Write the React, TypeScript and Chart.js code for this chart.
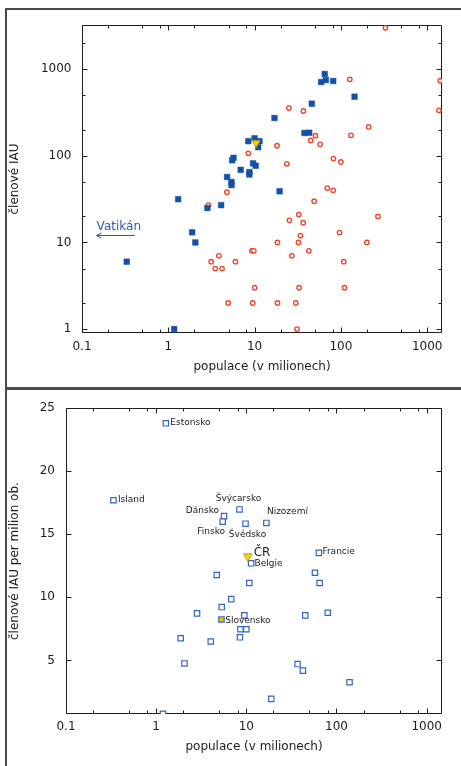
import React, { useEffect, useRef } from 'react';
import { Chart, registerables } from 'chart.js';

Chart.register(...registerables);

const FONT_FAMILY = "'DejaVu Sans', 'Liberation Sans', sans-serif";
const TEXT_COLOR = '#1c1c1c';

// ---------- Top panel: IAU members vs population (millions) ----------
const memberStatePopulation = [65, 59, 67, 81.5, 144, 46, 17, 37.8, 43, 10, 8.45, 11.4, 11, 5.7, 5.5, 9.6, 10.3, 6.9, 8.7, 8.7, 4.8, 5.4, 5.4, 19.5, 1.3, 2.84, 4.1, 1.89, 2.06, 0.33, 1.17];
const memberStateMembers = [883, 713, 752, 733, 483, 401, 274, 184, 185, 160, 148, 148, 126, 95, 89, 82, 77, 69, 65, 61, 57, 50, 46, 39, 31.6, 25, 27, 13.1, 10, 6, 1];

const otherPopulation = [328, 127, 1416, 1368, 25, 36.8, 210, 131, 50.8, 44.8, 57.5, 18.2, 8.45, 23.6, 82, 100, 4.78, 69.5, 81.5, 49, 2.92, 32.5, 25.3, 36.6, 269, 34, 96.6, 18.4, 32.2, 200, 9.3, 9.8, 42.5, 3.85, 27, 3.14, 6.0, 108, 3.5, 4.2, 10, 32.8, 110, 4.94, 9.5, 18.4, 30, 31];
const otherMembers = [3020, 767, 738, 336, 357, 330, 216, 173, 171, 151, 136, 131, 107, 81, 93, 85, 38, 42.5, 40, 30, 27, 21, 18, 16.9, 20, 12, 13, 10, 10, 10, 8, 8, 8, 7, 7, 6, 6, 6, 5, 5, 3, 3, 3, 2, 2, 2, 2, 1];

const czPopulation = [10.4];
const czMembers = [141];

const vaticanText = 'Vatikán';
const vaticanTextAt = [0.267, 15];
const vaticanArrowFrom = [0.408, 12.2];
const vaticanArrowTo = [0.147, 12.2];

// ---------- Bottom panel: IAU members per million inhabitants ----------
const perMillionNames = ['Estonsko', 'Island', 'Švýcarsko', 'Dánsko', 'Finsko', 'Švédsko', 'Nizozemí', 'Belgie', 'Francie', '', '', '', '', '', '', '', '', '', '', '', '', '', '', '', '', '', '', '', '', ''];
const perMillionPopulation = [1.28, 0.336, 8.4, 5.66, 5.47, 9.8, 16.7, 11.3, 63.8, 4.7, 10.8, 57.7, 65, 6.8, 5.33, 2.84, 9.5, 45, 80, 8.6, 10, 8.5, 1.87, 4.03, 2.06, 37, 42.4, 139.6, 18.9, 1.19];
const perMillionMembers = [23.8, 17.7, 16.97, 16.44, 16.0, 15.84, 15.9, 12.7, 13.53, 11.77, 11.14, 11.95, 11.14, 9.86, 9.23, 8.73, 8.57, 8.57, 8.78, 7.47, 7.47, 6.83, 6.76, 6.5, 4.76, 4.71, 4.19, 3.27, 1.95, 0.77];

const slovakiaName = ['Slovensko'];
const slovakiaPopulation = [5.3];
const slovakiaPerMillion = [8.25];

const czName = ['ČR'];
const czPopulation2 = [10.4];
const czPerMillion = [13.25];

// ---------- Tick marks ----------
const logXMajor = [0.1, 1, 10, 100, 1000];
const logXMinor = [0.2, 0.5, 0.8, 2, 5, 8, 20, 50, 80, 200, 500, 800];
const logYMajor = [1, 10, 100, 1000];
const logYMinor = [2, 5, 20, 50, 200, 500, 2000];
const linYMajor = [5, 10, 15, 20, 25];

// label placement (style, not data)
const labelPlacement: Record<string, { dx: number; dy: number; align: CanvasTextAlign; size: number }> = {
  Estonsko: { dx: 4.5, dy: -0.5, align: 'left', size: 9 },
  Island: { dx: 4.5, dy: -0.5, align: 'left', size: 9 },
  'Švýcarsko': { dx: -1, dy: -10.5, align: 'center', size: 9 },
  'Dánsko': { dx: -5, dy: -5, align: 'right', size: 9 },
  Finsko: { dx: -11.5, dy: 10, align: 'center', size: 9 },
  'Švédsko': { dx: 2, dy: 10.5, align: 'center', size: 9 },
  'Nizozemí': { dx: 21, dy: -11, align: 'center', size: 9 },
  Belgie: { dx: 3.5, dy: 0, align: 'left', size: 9 },
  Francie: { dx: 3.5, dy: -1.5, align: 'left', size: 9 },
  Slovensko: { dx: 3.7, dy: 1.5, align: 'left', size: 9 },
  'ČR': { dx: 5.8, dy: -3, align: 'left', size: 12 },
};

const toPoints = (xs: number[], ys: number[]) => xs.map((x, i) => ({ x, y: ys[i] }));

const isDecade = (v: number) => {
  const l = Math.log10(v);
  return Math.abs(l - Math.round(l)) < 1e-9;
};
const decadeLabel = (v: number) => (v >= 1 ? String(Math.round(v)) : String(+v.toFixed(1)));

type Decor = {
  xMajor: number[];
  xMinor: number[];
  yMajor: number[];
  yMinor: number[];
  labels: { text: string; x: number; y: number }[];
  textLabels?: { text: string; x: number; y: number; color: string; size: number }[];
  arrows?: { from: number[]; to: number[]; color: string }[];
};

function decorPlugin(cfg: Decor) {
  return {
    id: 'decor',
    beforeDatasetsDraw(chart: any) {
      const { ctx, chartArea: a, scales } = chart;
      const xs = scales.x;
      const ys = scales.y;
      const L = Math.round(a.left) + 0.5;
      const R = Math.round(a.right) - 0.5;
      const T = Math.round(a.top) + 0.5;
      const B = Math.round(a.bottom) - 0.5;
      ctx.save();
      ctx.strokeStyle = '#1e1e1e';
      ctx.lineWidth = 1;
      ctx.beginPath();
      ctx.rect(L, T, R - L, B - T);
      const tx = (vals: number[], len: number) =>
        vals.forEach((v) => {
          const p = Math.round(xs.getPixelForValue(v)) + 0.5;
          if (p < L - 0.1 || p > R + 0.1) return;
          ctx.moveTo(p, B);
          ctx.lineTo(p, B - len);
          ctx.moveTo(p, T);
          ctx.lineTo(p, T + len);
        });
      const ty = (vals: number[], len: number) =>
        vals.forEach((v) => {
          const p = Math.round(ys.getPixelForValue(v)) + 0.5;
          if (p < T - 0.1 || p > B + 0.1) return;
          ctx.moveTo(L, p);
          ctx.lineTo(L + len, p);
          ctx.moveTo(R, p);
          ctx.lineTo(R - len, p);
        });
      tx(cfg.xMajor, 5);
      tx(cfg.xMinor, 3);
      ty(cfg.yMajor, 5);
      ty(cfg.yMinor, 3);
      ctx.stroke();
      ctx.restore();
    },
    afterDatasetsDraw(chart: any) {
      const { ctx, scales } = chart;
      const xs = scales.x;
      const ys = scales.y;
      ctx.save();
      ctx.textBaseline = 'middle';
      cfg.labels.forEach((lb) => {
        const pl = labelPlacement[lb.text];
        if (!pl) return;
        const px = xs.getPixelForValue(lb.x);
        const py = ys.getPixelForValue(lb.y);
        ctx.font = `${pl.size}px ${FONT_FAMILY}`;
        ctx.fillStyle = TEXT_COLOR;
        ctx.textAlign = pl.align;
        ctx.fillText(lb.text, px + pl.dx, py + pl.dy);
      });
      (cfg.textLabels || []).forEach((t) => {
        ctx.font = `${t.size}px ${FONT_FAMILY}`;
        ctx.fillStyle = t.color;
        ctx.textAlign = 'center';
        ctx.fillText(t.text, xs.getPixelForValue(t.x), ys.getPixelForValue(t.y));
      });
      (cfg.arrows || []).forEach((ar) => {
        const x1 = xs.getPixelForValue(ar.from[0]);
        const y1 = Math.round(ys.getPixelForValue(ar.from[1])) + 0.5;
        const x2 = xs.getPixelForValue(ar.to[0]);
        const y2 = Math.round(ys.getPixelForValue(ar.to[1])) + 0.5;
        ctx.strokeStyle = ar.color;
        ctx.lineWidth = 1;
        ctx.beginPath();
        ctx.moveTo(x1, y1);
        ctx.lineTo(x2, y2);
        ctx.moveTo(x2 + 5, y2 - 2.5);
        ctx.lineTo(x2, y2);
        ctx.lineTo(x2 + 5, y2 + 2.5);
        ctx.stroke();
      });
      ctx.restore();
    },
  };
}

const tickFont = { size: 12, family: FONT_FAMILY };

function topConfig(): any {
  return {
    type: 'scatter',
    data: {
      datasets: [
        {
          label: 'ČR',
          data: toPoints(czPopulation, czMembers),
          pointStyle: 'triangle',
          pointRotation: 180,
          pointRadius: 4.5,
          pointBackgroundColor: '#f6d20f',
          pointBorderColor: '#c7a200',
          pointBorderWidth: 1,
        },
        {
          label: 'EU',
          data: toPoints(memberStatePopulation, memberStateMembers),
          pointStyle: 'rect',
          pointRadius: 4,
          pointBackgroundColor: '#1451a6',
          pointBorderColor: '#1451a6',
          pointBorderWidth: 0.5,
        },
        {
          label: 'other',
          data: toPoints(otherPopulation, otherMembers),
          pointStyle: 'circle',
          pointRadius: 2.2,
          pointBackgroundColor: '#ffffff',
          pointBorderColor: '#ef4630',
          pointBorderWidth: 1.4,
        },
      ],
    },
    options: {
      animation: false,
      responsive: false,
      devicePixelRatio: 1,
      events: [],
      layout: { padding: { left: 5, right: 19, top: 25, bottom: 9 } },
      plugins: { legend: { display: false }, tooltip: { enabled: false } },
      scales: {
        x: {
          type: 'logarithmic',
          min: 0.1,
          max: 1485,
          grid: { display: false, drawTicks: false },
          border: { display: false },
          ticks: {
            autoSkip: false,
            maxRotation: 0,
            minRotation: 0,
            padding: 6.5,
            color: TEXT_COLOR,
            font: tickFont,
            callback: (v: number) => (isDecade(v) ? decadeLabel(v) : ''),
          },
          title: { display: true, text: 'populace (v milionech)', color: TEXT_COLOR, font: tickFont, padding: { top: 0, bottom: 4 } },
          afterFit: (s: any) => {
            s.height = 45;
          },
        },
        y: {
          type: 'logarithmic',
          min: 0.9,
          max: 3250,
          grid: { display: false, drawTicks: false },
          border: { display: false },
          ticks: {
            autoSkip: false,
            padding: 10.5,
            color: TEXT_COLOR,
            font: tickFont,
            callback: (v: number) => (isDecade(v) ? decadeLabel(v) : ''),
          },
          title: { display: true, text: 'členové IAU', color: TEXT_COLOR, font: tickFont, padding: { top: 3, bottom: 0 } },
          afterFit: (s: any) => {
            s.width = 77;
          },
        },
      },
    },
    plugins: [
      decorPlugin({
        xMajor: logXMajor,
        xMinor: logXMinor,
        yMajor: logYMajor,
        yMinor: logYMinor,
        labels: [],
        textLabels: [{ text: vaticanText, x: vaticanTextAt[0], y: vaticanTextAt[1], color: '#2a5cb0', size: 12 }],
        arrows: [{ from: vaticanArrowFrom, to: vaticanArrowTo, color: '#2a5cb0' }],
      }),
    ],
  };
}

function bottomConfig(): any {
  const labels = [
    ...perMillionNames.map((n, i) => ({ text: n, x: perMillionPopulation[i], y: perMillionMembers[i] })).filter((l) => l.text),
    { text: slovakiaName[0], x: slovakiaPopulation[0], y: slovakiaPerMillion[0] },
    { text: czName[0], x: czPopulation2[0], y: czPerMillion[0] },
  ];
  return {
    type: 'scatter',
    data: {
      datasets: [
        {
          label: 'ČR',
          data: toPoints(czPopulation2, czPerMillion),
          pointStyle: 'triangle',
          pointRotation: 180,
          pointRadius: 5,
          pointBackgroundColor: '#f6d20f',
          pointBorderColor: '#c7a200',
          pointBorderWidth: 1,
        },
        {
          label: 'Slovensko',
          data: toPoints(slovakiaPopulation, slovakiaPerMillion),
          pointStyle: 'rect',
          pointRadius: 3.8,
          pointBackgroundColor: '#f2c400',
          pointBorderColor: '#3265c4',
          pointBorderWidth: 1.2,
        },
        {
          label: 'per million',
          data: toPoints(perMillionPopulation, perMillionMembers),
          pointStyle: 'rect',
          pointRadius: 3.8,
          pointBackgroundColor: '#ffffff',
          pointBorderColor: '#3265c4',
          pointBorderWidth: 1.2,
        },
      ],
    },
    options: {
      animation: false,
      responsive: false,
      devicePixelRatio: 1,
      events: [],
      layout: { padding: { left: 5, right: 19, top: 16, bottom: 8 } },
      plugins: { legend: { display: false }, tooltip: { enabled: false } },
      scales: {
        x: {
          type: 'logarithmic',
          min: 0.1,
          max: 1480,
          grid: { display: false, drawTicks: false },
          border: { display: false },
          ticks: {
            autoSkip: false,
            maxRotation: 0,
            minRotation: 0,
            padding: 5.5,
            color: TEXT_COLOR,
            font: tickFont,
            callback: (v: number) => (isDecade(v) ? decadeLabel(v) : ''),
          },
          title: { display: true, text: 'populace (v milionech)', color: TEXT_COLOR, font: tickFont, padding: { top: 0, bottom: 4 } },
          afterFit: (s: any) => {
            s.height = 44;
          },
        },
        y: {
          type: 'linear',
          min: 0.75,
          max: 25,
          grid: { display: false, drawTicks: false },
          border: { display: false },
          ticks: {
            autoSkip: false,
            stepSize: 5,
            padding: 11,
            color: TEXT_COLOR,
            font: tickFont,
            callback: (v: number) => (v > 1 && Math.abs(v % 5) < 1e-9 ? String(v) : ''),
          },
          title: { display: true, text: 'členové IAU per milion ob.', color: TEXT_COLOR, font: tickFont, padding: { top: 3, bottom: 0 } },
          afterFit: (s: any) => {
            s.width = 61;
          },
        },
      },
    },
    plugins: [
      decorPlugin({
        xMajor: logXMajor,
        xMinor: logXMinor,
        yMajor: linYMajor,
        yMinor: [],
        labels,
      }),
    ],
  };
}

function ChartCanvas({ make, top, height }: { make: () => any; top: number; height: number }) {
  const ref = useRef<HTMLCanvasElement>(null);
  useEffect(() => {
    const chart = new Chart(ref.current as HTMLCanvasElement, make());
    return () => chart.destroy();
  }, []);
  return (
    <canvas
      ref={ref}
      width={461}
      height={height}
      style={{ position: 'absolute', left: 0, top, width: 461, height, display: 'block' }}
    />
  );
}

export default function App() {
  Chart.defaults.font.family = FONT_FAMILY;
  const line = '#4a4a4a';
  return (
    <div style={{ position: 'absolute', left: 0, top: 0, width: 461, height: 766, background: '#ffffff', overflow: 'hidden' }}>
      <ChartCanvas make={topConfig} top={0} height={387} />
      <ChartCanvas make={bottomConfig} top={390} height={376} />
      <div style={{ position: 'absolute', left: 5, top: 8, width: 2, height: 758, background: line }} />
      <div style={{ position: 'absolute', left: 5, top: 8, width: 456, height: 2, background: line }} />
      <div style={{ position: 'absolute', left: 5, top: 387, width: 456, height: 3, background: line }} />
    </div>
  );
}
